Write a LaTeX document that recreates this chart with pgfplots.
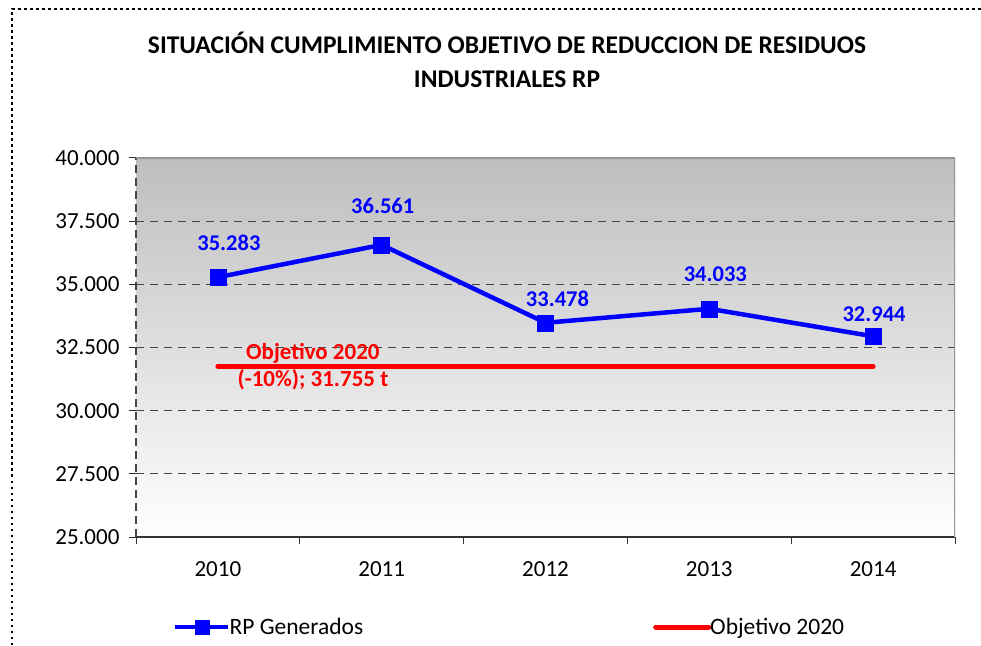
\documentclass[border=0pt]{standalone}
\usepackage{fontspec}
\setmainfont{Carlito}
\usepackage{pgfplots}
\pgfplotsset{compat=1.18}
\definecolor{gridc}{RGB}{70,70,70}
\definecolor{bgtop}{RGB}{190,190,190}
\definecolor{framec}{RGB}{150,150,150}
\definecolor{rpblue}{RGB}{0,0,255}
\definecolor{objred}{RGB}{255,0,0}
\begin{document}
\begin{tikzpicture}[x=1pt,y=1pt]
\useasboundingbox (0,0) rectangle (981,645);
\clip (0,0) rectangle (981,645);
\draw[line width=1.3pt, dash pattern=on 2.5pt off 3.5pt] (12,0) -- (12,636) -- (981,636);
\node[font=\fontsize{25.5}{34}\selectfont\bfseries, align=center] at (507,585)
  {SITUACIÓN CUMPLIMIENTO OBJETIVO DE REDUCCION DE RESIDUOS\\INDUSTRIALES RP};
\begin{axis}[
  at={(136pt,108pt)}, anchor=south west,
  scale only axis, width=819pt, height=379pt,
  xmin=-0.5, xmax=4.5, ymin=25000, ymax=40000,
  axis x line*=bottom, axis y line*=left,
  x axis line style={line width=1.2pt, color=black!80},
  y axis line style={line width=1.2pt, color=gridc, dash pattern=on 8pt off 5pt},
  axis background/.style={shade, top color=bgtop, bottom color=white},
  xtick={-0.5,0.5,...,4.5}, xticklabels={},
  extra x ticks={0,1,2,3,4},
  extra x tick labels={2010,2011,2012,2013,2014},
  extra x tick style={major tick length=0pt, grid=none,
    tick label style={yshift=-21pt}},
  ytick={25000,27500,...,40000},
  scaled y ticks=false,
  tick align=outside, major tick length=7pt,
  tick style={line width=1pt, color=black!80},
  ymajorgrids,
  grid style={gridc, line width=1pt, dash pattern=on 8pt off 6pt},
  tick label style={font=\fontsize{23}{26}\selectfont},
  y tick label style={xshift=-6pt, /pgf/number format/.cd, 1000 sep={.}, assume math mode=true},
  legend style={at={(rel axis cs:0.045,-0.2375)}, anchor=west, draw=none, fill=none,
    inner sep=0pt, font=\fontsize{23.5}{26}\selectfont,
    /tikz/every odd column/.append style={column sep=-3pt},
    /tikz/every even column/.append style={column sep=288pt}},
  legend columns=2, legend cell align=left,
  legend image code/.code={\draw[mark repeat=2,mark phase=2,#1,mark size=7pt]
    plot coordinates {(0pt,0pt) (26.5pt,0pt) (53pt,0pt)};},
]
\addplot[rpblue, line width=4.5pt, mark=square*, mark size=8pt,
  mark options={solid, line width=0.5pt}]
  coordinates {(0,35283) (1,36561) (2,33478) (3,34033) (4,32944)};
\addlegendentry{RP Generados}
\addplot[objred, line width=5pt, line cap=round]
  coordinates {(0,31755) (4,31755)};
\addlegendentry{Objetivo 2020}
\draw[framec, line width=1.5pt] (rel axis cs:0,1) -- (rel axis cs:1,1) -- (rel axis cs:1,0);
\begin{scope}[every node/.style={font=\fontsize{22.5}{26}\selectfont\bfseries, text=rpblue}]
\node[xshift=11pt, yshift=34pt] at (axis cs:0,35283) {35.283};
\node[xshift=1pt, yshift=39pt] at (axis cs:1,36561) {36.561};
\node[xshift=12pt, yshift=24pt] at (axis cs:2,33478) {33.478};
\node[xshift=6pt, yshift=35pt] at (axis cs:3,34033) {34.033};
\node[xshift=1pt, yshift=22pt] at (axis cs:4,32944) {32.944};
\end{scope}
\node[font=\fontsize{23}{27}\selectfont\bfseries, text=objred, align=center]
  at (axis cs:0.58,31755) {Objetivo 2020\\(-10\%); 31.755 t};
\end{axis}
\end{tikzpicture}
\end{document}
